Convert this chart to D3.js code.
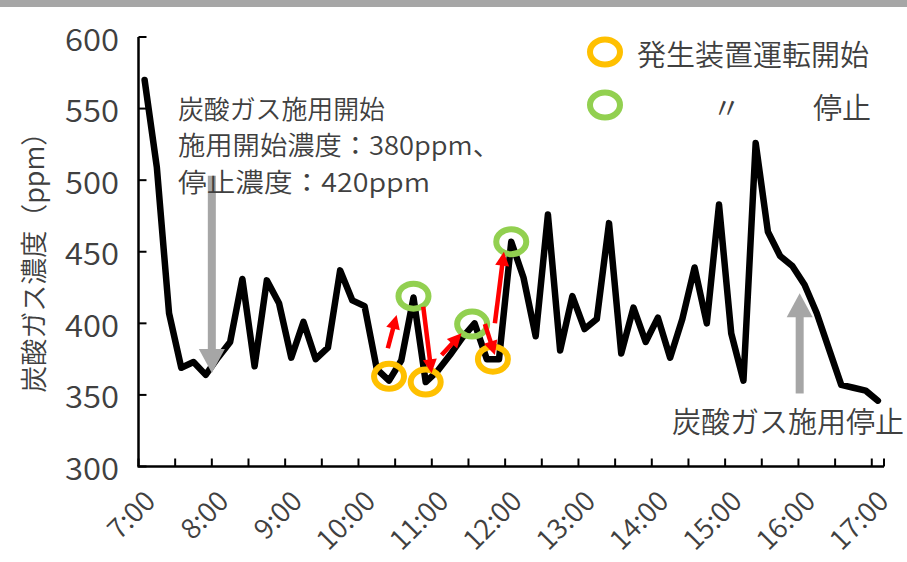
<!DOCTYPE html>
<html>
<head>
<meta charset="utf-8">
<script src="https://cdn.jsdelivr.net/npm/d3@7"></script>
<style>
  html, body { margin: 0; padding: 0; background: #fff; }
  svg { display: block; }
  text { font-family: "Noto Sans CJK JP", "Noto Sans", sans-serif; fill: #404040; font-weight: 350; }
</style>
</head>
<body>
<svg id="chart" width="907" height="562"></svg>
<script>
// CO2 concentration, one reading every 10 minutes from 7:00 to 17:00
const minutes = d3.range(0, 601, 10);
const co2 = [
  570, 509, 407, 369, 373, 364, 376, 387, 431, 370,
  430, 414, 376, 401, 375, 383, 437, 416, 412, 368,
  360, 374, 418, 359, 367, 378, 390, 400, 375, 375,
  457, 432, 391, 476, 381, 419, 396, 403, 470, 379,
  411, 387, 404, 376, 403, 439, 400, 483, 393, 360,
  526, 464, 447, 440, 427, 407, 382, 357, 355, 353,
  346
];
const yTicks = [300, 350, 400, 450, 500, 550, 600];
const hourLabels = ["7:00", "8:00", "9:00", "10:00", "11:00", "12:00",
                    "13:00", "14:00", "15:00", "16:00", "17:00"];

// generator switched on (orange) / off (green): [minute, ppm]
const onMarks = [[200, 363], [230, 359], [285, 375]];
const offMarks = [[220, 419], [268, 399.5], [300, 457]];
// red arrows tracing on -> off -> on: [fromMinute, fromPpm, toMinute, toPpm]
const redArrows = [
  [199, 382.6, 206.2, 405.8],
  [228, 411.6, 234.8, 365.1],
  [243, 377.9, 259.3, 393],
  [278.4, 399.5, 286.6, 377.9],
  [286.6, 400, 294, 450]
];
// grey arrows marking start / end of CO2 supply: [minute, tailPpm, tipPpm]
const supplyArrows = [[55, 503, 365.3], [536, 351, 421]];

const svg = d3.select("#chart");
const plot = { left: 138.5, right: 884, top: 37, bottom: 466.5 };

const x = d3.scaleLinear().domain([-5, 605]).range([plot.left, plot.right]);
const y = d3.scaleLinear().domain([300, 600]).range([plot.bottom, plot.top]);

// top border band
svg.append("rect").attr("x", 0).attr("y", 0).attr("width", 907).attr("height", 7)
  .attr("fill", "#a6a6a6");

// axis lines
svg.append("line").attr("x1", plot.left).attr("x2", plot.left)
  .attr("y1", plot.top).attr("y2", plot.bottom)
  .attr("stroke", "#000").attr("stroke-width", 2.5);
svg.append("line").attr("x1", plot.left - 1).attr("x2", plot.right)
  .attr("y1", plot.bottom).attr("y2", plot.bottom)
  .attr("stroke", "#000").attr("stroke-width", 2.5);

// y ticks (inside) and labels
const yAxis = svg.append("g");
yAxis.selectAll("line").data(yTicks).join("line")
  .attr("x1", plot.left).attr("x2", plot.left + 8)
  .attr("y1", d => y(d)).attr("y2", d => y(d))
  .attr("stroke", "#000").attr("stroke-width", 2);
yAxis.selectAll("text").data(yTicks).join("text")
  .attr("x", 119).attr("y", d => y(d))
  .attr("text-anchor", "end").attr("dominant-baseline", "central")
  .attr("textLength", 54).attr("lengthAdjust", "spacingAndGlyphs")
  .style("font-size", "31px")
  .text(d => d);

// x ticks every 30 minutes on category boundaries
const xTickVals = d3.range(-5, 606, 30);
svg.append("g").selectAll("line").data(xTickVals).join("line")
  .attr("x1", d => x(d)).attr("x2", d => x(d))
  .attr("y1", plot.bottom).attr("y2", plot.bottom - 8)
  .attr("stroke", "#000").attr("stroke-width", 2);
svg.append("line").attr("x1", plot.right).attr("x2", plot.right)
  .attr("y1", plot.bottom).attr("y2", plot.bottom - 8)
  .attr("stroke", "#000").attr("stroke-width", 2);

// hourly labels, rotated
svg.append("g").selectAll("text").data(hourLabels).join("text")
  .attr("transform", (d, i) => `translate(${x(i * 60) + 4},${plot.bottom + 28}) rotate(-45)`)
  .attr("text-anchor", "end").attr("dominant-baseline", "central")
  .style("font-size", "28px")
  .text(d => d);

// y axis title
svg.append("text")
  .attr("transform", `translate(32,${(plot.top + plot.bottom) / 2 + 4}) rotate(-90)`)
  .attr("text-anchor", "middle").attr("dominant-baseline", "central")
  .style("font-size", "27px")
  .text("炭酸ガス濃度（ppm）");

// concentration line
const line = d3.line().x((d, i) => x(minutes[i])).y(d => y(d));
svg.append("path").datum(co2)
  .attr("d", line)
  .attr("fill", "none").attr("stroke", "#000")
  .attr("stroke-width", 6.5).attr("stroke-linejoin", "round").attr("stroke-linecap", "round");

// arrow helper: shaft + filled triangular head
function arrow(g, x1, y1, x2, y2, color, shaftW, headLen, headW) {
  const dx = x2 - x1, dy = y2 - y1, len = Math.hypot(dx, dy);
  const ux = dx / len, uy = dy / len, px = -uy, py = ux;
  const bx = x2 - ux * headLen, by = y2 - uy * headLen;
  g.append("line").attr("x1", x1).attr("y1", y1).attr("x2", bx + ux).attr("y2", by + uy)
    .attr("stroke", color).attr("stroke-width", shaftW);
  g.append("path")
    .attr("d", `M${x2},${y2}L${bx + px * headW / 2},${by + py * headW / 2}L${bx - px * headW / 2},${by - py * headW / 2}Z`)
    .attr("fill", color);
}

// grey supply start / stop arrows
const ga = svg.append("g");
supplyArrows.forEach(([m, a, b]) => arrow(ga, x(m), y(a), x(m), y(b), "#a6a6a6", 8, 24, 26));

// on/off rings
svg.append("g").selectAll("ellipse").data(onMarks).join("ellipse")
  .attr("cx", d => x(d[0])).attr("cy", d => y(d[1]))
  .attr("rx", 15).attr("ry", 12.5)
  .attr("fill", "none").attr("stroke", "#ffc000").attr("stroke-width", 6);
svg.append("g").selectAll("ellipse").data(offMarks).join("ellipse")
  .attr("cx", d => x(d[0])).attr("cy", d => y(d[1]))
  .attr("rx", 15).attr("ry", 12.5)
  .attr("fill", "none").attr("stroke", "#92d050").attr("stroke-width", 6);

// red arrows
const ra = svg.append("g");
redArrows.forEach(([m1, v1, m2, v2]) => arrow(ra, x(m1), y(v1), x(m2), y(v2), "#ff0000", 4.5, 14, 14));

// annotations
const ann = svg.append("g").style("font-size", "26px");
[["炭酸ガス施用開始", 207], ["施用開始濃度：380ppm、", 322], ["停止濃度：420ppm", 252]].forEach(([t, w], i) => {
  ann.append("text").attr("x", 178).attr("y", 107 + i * 36.5)
    .attr("dominant-baseline", "central")
    .attr("textLength", w).attr("lengthAdjust", "spacingAndGlyphs")
    .text(t);
});
svg.append("text").attr("x", 904).attr("y", 420)
  .attr("text-anchor", "end").attr("dominant-baseline", "central")
  .style("font-size", "29px").text("炭酸ガス施用停止");

// legend
const lg = svg.append("g");
lg.append("ellipse").attr("cx", 605).attr("cy", 52).attr("rx", 15).attr("ry", 12.5)
  .attr("fill", "none").attr("stroke", "#ffc000").attr("stroke-width", 6);
lg.append("ellipse").attr("cx", 605).attr("cy", 105).attr("rx", 15).attr("ry", 12.5)
  .attr("fill", "none").attr("stroke", "#92d050").attr("stroke-width", 6);
lg.append("text").attr("x", 637).attr("y", 53).attr("dominant-baseline", "central")
  .style("font-size", "29px").text("発生装置運転開始");
lg.append("text").attr("x", 712).attr("y", 106).attr("dominant-baseline", "central")
  .style("font-size", "29px").text("〃");
lg.append("text").attr("x", 871).attr("y", 106).attr("text-anchor", "end")
  .attr("dominant-baseline", "central")
  .style("font-size", "29px").text("停止");
</script>
</body>
</html>
